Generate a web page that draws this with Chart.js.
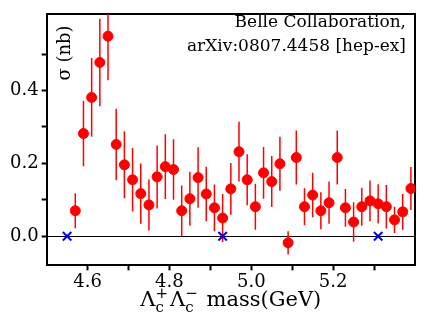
<!DOCTYPE html>
<html>
<head>
<meta charset="utf-8">
<script src="https://cdn.jsdelivr.net/npm/chart.js@4"></script>
<style>
  html, body { margin: 0; padding: 0; background: #fff; }
  #box { width: 425px; height: 332px; }
</style>
</head>
<body>
<div id="box"><canvas id="sigmaChart"></canvas></div>
<script>
// Lambda_c+ Lambda_c- mass bins (GeV), cross section (nb) and errors
const mass = [4.57, 4.59, 4.61, 4.63, 4.65, 4.67, 4.69, 4.71, 4.73, 4.75, 4.77, 4.79, 4.81, 4.83,
              4.85, 4.87, 4.89, 4.91, 4.93, 4.95, 4.97, 4.99, 5.01, 5.03, 5.05, 5.07, 5.09, 5.11,
              5.13, 5.15, 5.17, 5.19, 5.21, 5.23, 5.25, 5.27, 5.29, 5.31, 5.33, 5.35, 5.37, 5.39];
const sigma = [0.070, 0.282, 0.381, 0.477, 0.549, 0.252, 0.196, 0.155, 0.117, 0.086, 0.163, 0.191, 0.183, 0.070,
               0.103, 0.161, 0.116, 0.078, 0.050, 0.130, 0.232, 0.155, 0.081, 0.174, 0.150, 0.199, -0.018, 0.216,
               0.081, 0.113, 0.070, 0.092, 0.216, 0.078, 0.039, 0.081, 0.097, 0.089, 0.081, 0.045, 0.067, 0.131];
const sigmaErr = [0.048, 0.090, 0.108, 0.120, 0.121, 0.098, 0.092, 0.087, 0.083, 0.070, 0.086, 0.089, 0.083, 0.069,
                  0.074, 0.083, 0.075, 0.064, 0.066, 0.071, 0.082, 0.070, 0.063, 0.071, 0.070, 0.074, 0.032, 0.074,
                  0.051, 0.061, 0.051, 0.058, 0.074, 0.052, 0.054, 0.052, 0.056, 0.054, 0.060, 0.036, 0.049, 0.059];
// blue crosses on the zero line
const crossMass = [4.55, 4.93, 5.31];
const crossSigma = [0, 0, 0];
// axis ticks
const xTicks = [4.6, 4.7, 4.8, 4.9, 5.0, 5.1, 5.2, 5.3];
const xLabels = [4.6, 4.8, 5.0, 5.2];
const yTicks = [0, 0.1, 0.2, 0.3, 0.4, 0.5];
const yLabels = [0, 0.2, 0.4];

const serif = '"DejaVu Serif", serif';

// error bars as line segments split by null gaps
const errPts = [];
mass.forEach(function(m, i) {
    errPts.push({x: m, y: sigma[i] - sigmaErr[i]});
    errPts.push({x: m, y: sigma[i] + sigmaErr[i]});
    errPts.push({x: m, y: null});
});

const hasLabel = (list, v) => list.some(l => Math.abs(l - v) < 1e-6);

// text inside the plot and the x title with sub/superscripts
const textPlugin = {
    id: 'texts',
    afterDraw(chart) {
        const ctx = chart.ctx;
        const area = chart.chartArea;
        ctx.save();
        ctx.fillStyle = '#000';

        // Belle note, top right
        ctx.font = '17px ' + serif;
        ctx.textAlign = 'right';
        ctx.textBaseline = 'alphabetic';
        ctx.fillText('Belle Collaboration,', area.right - 9, area.top + 13);
        ctx.fillText('arXiv:0807.4458 [hep-ex]', area.right - 9, area.top + 37);

        // y title, rotated, inside the plot
        ctx.save();
        ctx.translate(area.left + 19, area.top + 39);
        ctx.rotate(-Math.PI / 2);
        ctx.textAlign = 'center';
        ctx.textBaseline = 'middle';
        ctx.font = '18px ' + serif;
        ctx.fillText('\u03c3 (nb)', 0, 0);
        ctx.restore();

        // x title: Λc+ Λc- mass(GeV)
        const big = '21px ' + serif, small = '15px ' + serif;
        const parts = [
            {t: '\u039b', f: big, dy: 0},
            {t: '+', f: small, dy: -8, sub: 'c'},
            {t: '\u039b', f: big, dy: 0},
            {t: '\u2212', f: small, dy: -8, sub: 'c'},
            {t: ' mass(GeV)', f: big, dy: 0}
        ];
        let total = 0;
        parts.forEach(p => { ctx.font = p.f; p.w = ctx.measureText(p.t).width + (p.sub ? 2 : 0); total += p.w; });
        let x = (area.left + area.right) / 2 - total / 2;
        const base = area.bottom + 41;
        ctx.textAlign = 'left';
        ctx.textBaseline = 'alphabetic';
        parts.forEach(p => {
            ctx.font = p.f;
            ctx.fillText(p.t, x, base + p.dy);
            if (p.sub) ctx.fillText(p.sub, x, base + 6);
            x += p.w;
        });
        ctx.restore();
    }
};

new Chart(document.getElementById('sigmaChart'), {
    type: 'scatter',
    data: {
        datasets: [
            {
                label: 'sigma',
                data: mass.map((m, i) => ({x: m, y: sigma[i]})),
                backgroundColor: '#ff0000',
                borderColor: '#ff0000',
                pointRadius: 5,
                pointHoverRadius: 5
            },
            {
                label: 'zero',
                data: crossMass.map((m, i) => ({x: m, y: crossSigma[i]})),
                pointStyle: 'crossRot',
                borderColor: '#0000ff',
                borderWidth: 2,
                pointRadius: 6
            },
            {
                label: 'err',
                data: errPts,
                showLine: true,
                spanGaps: false,
                borderColor: '#ff0000',
                borderWidth: 1.5,
                pointRadius: 0
            }
        ]
    },
    options: {
        responsive: true,
        maintainAspectRatio: false,
        animation: false,
        layout: { padding: { left: 7, right: 10, top: 14, bottom: 38 } },
        plugins: { legend: { display: false }, tooltip: { enabled: false } },
        scales: {
            x: {
                type: 'linear',
                min: 4.5,
                max: 5.4,
                afterBuildTicks: s => { s.ticks = xTicks.map(v => ({value: v})); },
                ticks: {
                    autoSkip: false,
                    maxRotation: 0,
                    padding: 1,
                    color: '#000',
                    font: { family: serif, size: 18 },
                    callback: v => hasLabel(xLabels, v) ? v.toFixed(1) : ''
                },
                grid: { drawOnChartArea: false, tickLength: 5, tickWidth: 2, tickColor: '#000' },
                border: { color: '#000', width: 2 }
            },
            y: {
                min: -0.08,
                max: 0.61,
                afterBuildTicks: s => { s.ticks = yTicks.map(v => ({value: v})); },
                ticks: {
                    autoSkip: false,
                    padding: 3,
                    color: '#000',
                    font: { family: serif, size: 18 },
                    callback: v => hasLabel(yLabels, v) ? v.toFixed(1) : ''
                },
                grid: {
                    color: c => (c.tick && c.tick.value === 0) ? '#000' : 'rgba(0,0,0,0)',
                    lineWidth: 1,
                    tickLength: 5,
                    tickWidth: 2,
                    tickColor: '#000'
                },
                border: { color: '#000', width: 2 }
            },
            x2: {
                type: 'linear',
                position: 'top',
                ticks: { display: false },
                grid: { display: false, drawTicks: false },
                border: { color: '#000', width: 2 }
            },
            y2: {
                type: 'linear',
                position: 'right',
                ticks: { display: false },
                grid: { display: false, drawTicks: false },
                border: { color: '#000', width: 2 }
            }
        }
    },
    plugins: [textPlugin]
});
</script>
</body>
</html>
